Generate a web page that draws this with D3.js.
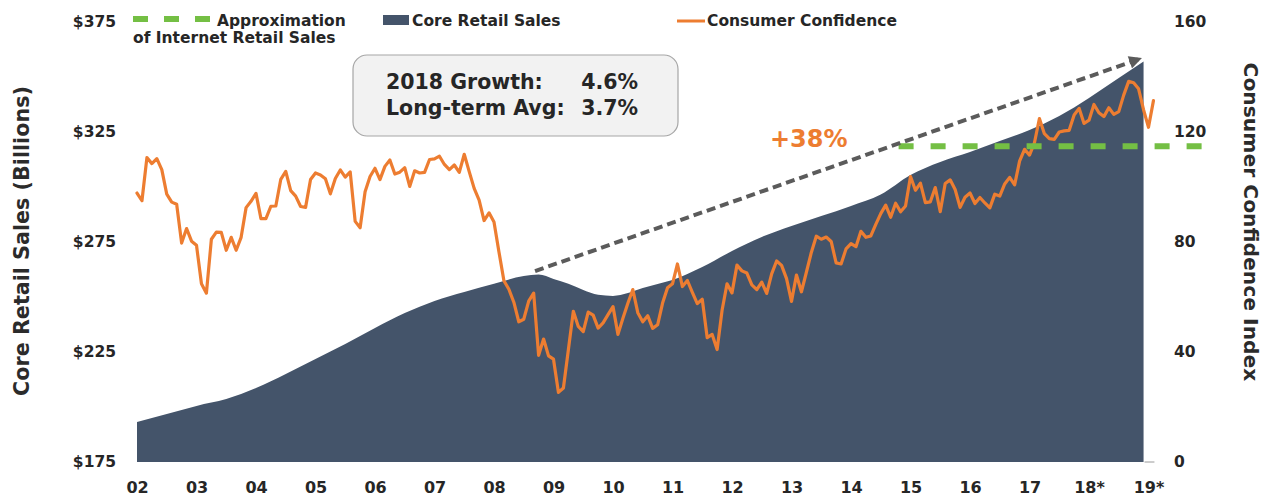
<!DOCTYPE html>
<html><head><meta charset="utf-8">
<script src="https://cdn.jsdelivr.net/npm/d3@7"></script>
<style>
html,body{margin:0;padding:0;background:#fff;}
svg{display:block;font-family:"DejaVu Sans",sans-serif;}
</style>
</head><body>
<svg id="chart" width="1277" height="496"></svg>
<script>
// ---------------- data ----------------
const years = [2002,2003,2004,2005,2006,2007,2008,2009,2010,2011,2012,2013,2014,2015,2016,2017,2018,2019];
const yearLabels = ["02","03","04","05","06","07","08","09","10","11","12","13","14","15","16","17","18*","19*"];
const leftTicks = [175,225,275,325,375];
const leftTickLabels = ["$175","$225","$275","$325","$375"];
const rightTicks = [0,40,80,120,160];
const rightTickLabels = ["0","40","80","120","160"];

// Core retail sales ($ billions), decimal-year dates
const salesDates  = [2002.0,2002.5,2003.0,2003.5,2004.0,2004.5,2005.0,2005.5,2006.0,2006.5,2007.0,2007.5,2008.0,2008.5,2008.75,2009.0,2009.25,2009.5,2009.75,2010.0,2010.25,2010.5,2010.75,2011.0,2011.5,2012.0,2012.5,2013.0,2013.5,2014.0,2014.5,2015.0,2015.5,2016.0,2016.5,2017.0,2017.5,2018.0,2018.5,2018.917];
const salesValues = [193.2,196.8,200.5,203.6,208.6,215.0,221.8,228.6,235.9,242.7,248.2,252.3,256.0,259.5,260.2,258.2,256.0,253.2,251.0,250.5,251.8,254.1,255.9,257.7,263.6,270.9,277.3,282.3,286.8,291.4,296.6,305.5,311.4,315.9,320.9,325.9,332.3,340.5,349.5,357.0];

// Consumer confidence index, monthly from Jan 2002
const confidenceStart = 2002;
const confidenceValues = [
 97.8,95.0,110.7,108.5,110.3,106.3,97.4,94.5,93.7,79.6,84.9,80.3,
 78.8,64.8,61.4,81.0,83.6,83.5,77.0,81.7,77.0,81.7,92.5,94.8,
 97.7,88.5,88.5,93.0,93.1,102.8,105.7,98.7,96.7,92.9,92.6,102.7,
 105.1,104.4,103.0,97.5,103.1,106.2,103.6,105.5,87.5,85.2,98.3,103.8,
 106.8,102.7,107.5,109.8,104.7,105.4,107.0,100.2,105.9,105.1,105.3,110.0,
 110.2,111.2,108.2,106.3,108.0,105.3,111.9,105.6,99.5,95.2,87.8,90.6,
 87.3,76.4,65.9,62.8,58.1,51.0,51.9,58.5,61.4,38.8,44.7,38.6,
 37.4,25.3,26.9,40.8,54.8,49.3,47.4,54.5,53.4,48.7,50.6,53.6,
 56.5,46.4,52.3,57.7,62.7,54.3,51.0,53.2,48.6,49.9,57.8,63.4,
 64.8,72.0,63.8,66.0,61.7,57.6,59.2,45.2,46.4,40.9,55.2,64.8,
 61.5,71.6,69.5,68.7,64.4,62.7,65.4,61.3,68.4,73.1,71.5,66.7,
 58.4,68.0,61.9,69.0,76.2,82.1,81.0,81.8,80.2,72.4,72.0,77.5,
 79.4,78.3,83.9,81.7,82.2,86.4,90.3,93.4,89.0,94.1,91.0,93.1,
 103.8,98.8,101.4,94.3,94.6,99.8,91.0,101.3,102.6,99.1,92.6,96.3,
 97.8,94.0,96.2,94.2,92.4,97.4,96.7,101.1,103.5,100.8,109.4,113.7,
 111.6,116.1,124.9,119.4,117.6,117.3,120.0,120.4,120.6,126.2,128.6,123.1,
 124.3,130.0,127.0,125.6,128.8,126.4,127.4,133.4,138.4,137.9,135.7,128.1,
 121.7,131.4
];

// Internet retail approximation level ($ billions) and its span (years)
const internetLevel = [318.5];
const internetSpan = [2014.8, 2019.9];

// Growth arrow (year, $ billions)
const arrowFrom = [2008.69, 261.8];
const arrowTo   = [2018.89, 358.6];
const growthLabel = ["+38%"];
const boxLabels = ["2018 Growth:", "Long-term Avg:"];
const boxValues = ["4.6%", "3.7%"];
const legendLabels = ["Approximation", "of Internet Retail Sales", "Core Retail Sales", "Consumer Confidence"];

// ---------------- chart ----------------
const C_AREA = "#44546a", C_ORANGE = "#ed7d31", C_GREEN = "#74bf44", C_ARROW = "#5b5b5b", C_TEXT = "#262626";
const svg = d3.select("#chart");

const x = d3.scaleLinear().domain([2002, 2019]).range([137, 1148.5]);
const yL = d3.scaleLinear().domain([175, 375]).range([462, 22]);
const yR = d3.scaleLinear().domain([0, 160]).range([462, 22]);

const defs = svg.append("defs");
defs.append("marker").attr("id","arrowHead").attr("viewBox","0 0 10 10")
  .attr("refX",10).attr("refY",5).attr("markerWidth",3.4).attr("markerHeight",3.2)
  .attr("markerUnits","strokeWidth").attr("orient","auto")
  .append("path").attr("d","M0,0 L10,5 L0,10 Z").attr("fill",C_ARROW);

// area
const sales = salesDates.map((t,i)=>({t, v: salesValues[i]}));
svg.append("path").datum(sales)
  .attr("fill", C_AREA)
  .attr("d", d3.area().x(d=>x(d.t)).y0(yL(175)).y1(d=>yL(d.v)).curve(d3.curveMonotoneX));

// confidence line
const conf = confidenceValues.map((v,i)=>({t: confidenceStart + i/12, v}));
svg.append("path").datum(conf)
  .attr("fill","none").attr("stroke",C_ORANGE).attr("stroke-width",3.2)
  .attr("stroke-linejoin","round").attr("stroke-linecap","round")
  .attr("d", d3.line().x(d=>x(d.t)).y(d=>yR(d.v)));

// internet approximation dashed line
svg.append("line")
  .attr("x1", x(internetSpan[0])).attr("x2", x(internetSpan[1]))
  .attr("y1", yL(internetLevel[0])).attr("y2", yL(internetLevel[0]))
  .attr("stroke", C_GREEN).attr("stroke-width", 6).attr("stroke-dasharray","15,17");

// growth arrow
svg.append("line")
  .attr("x1", x(arrowFrom[0])).attr("y1", yL(arrowFrom[1]))
  .attr("x2", x(arrowTo[0])).attr("y2", yL(arrowTo[1]))
  .attr("stroke", C_ARROW).attr("stroke-width", 4).attr("stroke-dasharray","9,5")
  .attr("marker-end","url(#arrowHead)");

svg.append("text").attr("x", 770).attr("y", 147)
  .attr("fill", C_ORANGE).attr("font-size", 24).attr("font-weight","bold")
  .text(growthLabel[0]);

// info box
svg.append("rect").attr("x",353).attr("y",55).attr("width",325).attr("height",81)
  .attr("rx",14).attr("ry",14).attr("fill","#f2f2f2").attr("stroke","#a6a6a6").attr("stroke-width",1.2);
const boxBase = [89, 115];
boxLabels.forEach((s,i)=>{
  svg.append("text").attr("x",386).attr("y",boxBase[i]).attr("font-size",20.5).attr("font-weight","bold")
    .attr("fill",C_TEXT).text(s);
  svg.append("text").attr("x",638).attr("y",boxBase[i]).attr("font-size",20.5).attr("font-weight","bold")
    .attr("fill",C_TEXT).attr("text-anchor","end").text(boxValues[i]);
});

// axes
function styleAxis(g){
  g.select(".domain").remove();
  g.selectAll("text").attr("font-family","DejaVu Sans").attr("font-size",15.5).attr("font-weight","bold").attr("fill",C_TEXT);
}
svg.append("g").attr("transform","translate(119,0)")
  .call(d3.axisLeft(yL).tickValues(leftTicks).tickFormat((d,i)=>leftTickLabels[i]).tickSize(0).tickPadding(3))
  .call(styleAxis);
svg.append("g").attr("transform","translate(1171,0)")
  .call(d3.axisRight(yR).tickValues(rightTicks).tickFormat((d,i)=>rightTickLabels[i]).tickSize(0).tickPadding(3))
  .call(styleAxis);
svg.append("g").attr("transform","translate(0,487)")
  .call(d3.axisBottom(x).tickValues(years).tickFormat((d,i)=>yearLabels[i]).tickSize(0).tickPadding(0))
  .call(styleAxis)
  .selectAll("text").attr("y",0).attr("dy","0.36em").attr("font-size",16);

// small zero tick on the right
svg.append("line").attr("x1", x(salesDates[salesDates.length-1])+1).attr("x2", x(2019.1))
  .attr("y1", yR(0)).attr("y2", yR(0)).attr("stroke","#9a9a9a").attr("stroke-width",1);

// axis titles
svg.append("text").attr("transform","translate(22,241) rotate(-90)")
  .attr("text-anchor","middle").attr("dominant-baseline","central")
  .attr("font-size",20.7).attr("font-weight","bold").attr("fill","#2b2b2b")
  .text("Core Retail Sales (Billions)");
svg.append("text").attr("transform","translate(1251,222) rotate(90)")
  .attr("text-anchor","middle").attr("dominant-baseline","central")
  .attr("font-size",20.3).attr("font-weight","bold").attr("fill","#2b2b2b")
  .text("Consumer Confidence Index");

// legend
const lg = svg.append("g").attr("font-size",15.5).attr("font-weight","bold").attr("fill",C_TEXT);
lg.append("line").attr("x1",133).attr("x2",213).attr("y1",19).attr("y2",19)
  .attr("stroke",C_GREEN).attr("stroke-width",6).attr("stroke-dasharray","15,16");
lg.append("text").attr("x",217).attr("y",26).text(legendLabels[0]);
lg.append("text").attr("x",133).attr("y",43).text(legendLabels[1]);
lg.append("rect").attr("x",383).attr("y",15).attr("width",26).attr("height",10).attr("fill",C_AREA);
lg.append("text").attr("x",412).attr("y",26).text(legendLabels[2]);
lg.append("line").attr("x1",677).attr("x2",705).attr("y1",21).attr("y2",21)
  .attr("stroke",C_ORANGE).attr("stroke-width",3);
lg.append("text").attr("x",707).attr("y",26).text(legendLabels[3]);
</script>
</body></html>
